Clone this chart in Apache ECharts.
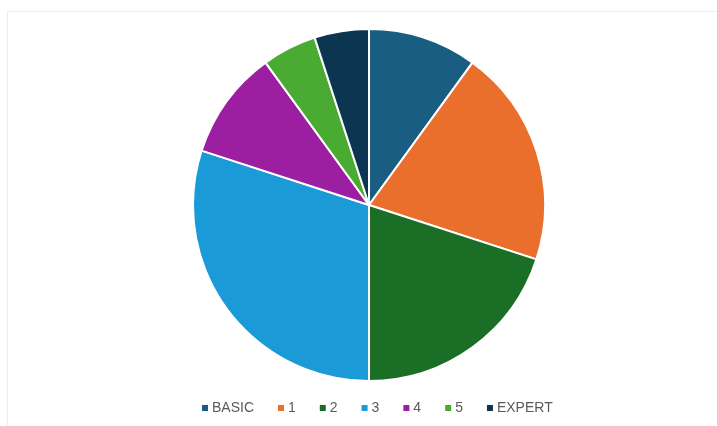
<!DOCTYPE html>
<html><head><meta charset="utf-8">
<script src="https://cdn.jsdelivr.net/npm/echarts@6/dist/echarts.min.js"></script>
<style>html,body{margin:0;padding:0;background:#fff}#c{width:717px;height:426px}</style>
</head><body><div id="c"></div>
<script>
const categories = ['BASIC','1','2','3','4','5','EXPERT'];
const values = [10,20,20,30,10,5,5];
const colors = ['#195d82','#ea6f2c','#1a6e26','#1a9ad6','#9b1fa0','#4aab32','#0c3552'];
const chart = echarts.init(document.getElementById('c'));
chart.setOption({
  animation:false,
  color: colors,
  graphic:[{type:'rect',shape:{x:7.5,y:11.5,width:720,height:430},style:{fill:'none',stroke:'#ececec',lineWidth:1},silent:true}],
  legend:{
    top:396, left:195, itemWidth:8, itemHeight:8, itemGap:22, icon:'rect',
    textStyle:{color:'#5a5a5a',fontSize:14,fontFamily:'Liberation Sans, Arial, sans-serif',padding:[0,0,0,-2]},
    data:categories
  },
  series:[{
    type:'pie', center:[369,205], radius:[0,176], startAngle:90, clockwise:true,
    label:{show:false}, labelLine:{show:false},
    itemStyle:{borderColor:'#fff',borderWidth:2},
    data: categories.map((n,i)=>({name:n,value:values[i]}))
  }]
});
</script></body></html>
